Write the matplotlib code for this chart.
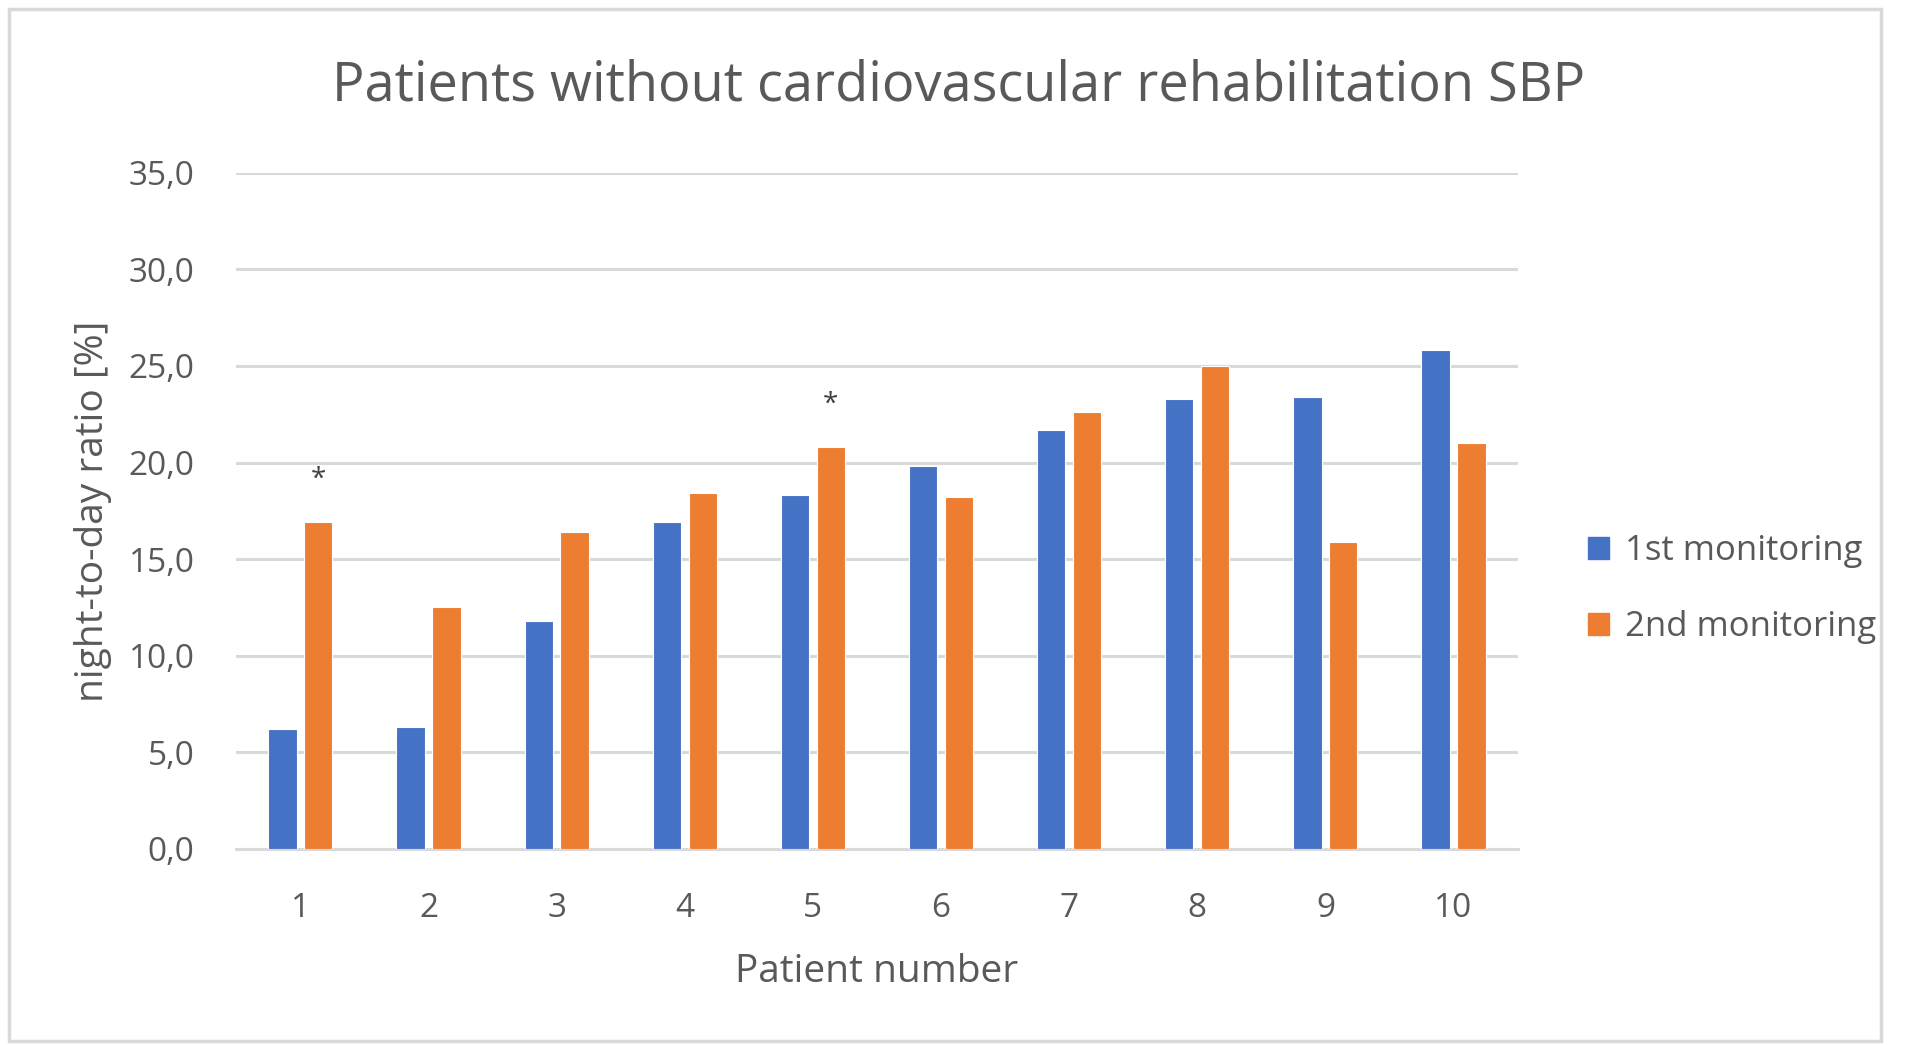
import matplotlib
matplotlib.use("Agg")
import matplotlib.pyplot as plt
from matplotlib.patches import Rectangle, Patch
import numpy as np

patients = ["1", "2", "3", "4", "5", "6", "7", "8", "9", "10"]
first_monitoring = [6.2, 6.3, 11.8, 16.9, 18.3, 19.8, 21.7, 23.3, 23.4, 25.8]
second_monitoring = [16.9, 12.5, 16.4, 18.4, 20.8, 18.2, 22.6, 25.0, 15.9, 21.0]
significant = [1, 5]  # patients marked with *
yticks = [0, 5, 10, 15, 20, 25, 30, 35]
series_names = ["1st monitoring", "2nd monitoring"]

BLUE = "#4472C4"
ORANGE = "#ED7D31"
TEXT = "#595959"
GRID = "#D9D9D9"

plt.rcParams['font.family'] = ['Open Sans', 'DejaVu Sans']

fig = plt.figure(figsize=(19.21, 10.45), dpi=100)
fig.patches.append(Rectangle((9 / 1921, 4 / 1045), 1872 / 1921, 1032 / 1045,
                             transform=fig.transFigure, fill=False,
                             edgecolor="#D9D9D9", linewidth=2.5))

ax = fig.add_axes([0.123, 0.1876, 0.667, 0.6471])
x = np.arange(len(patients))
w = 0.22
off = 0.14
ax.bar(x - off, first_monitoring, width=w, color=BLUE, edgecolor="white", linewidth=0.8, zorder=3)
ax.bar(x + off, second_monitoring, width=w, color=ORANGE, edgecolor="white", linewidth=0.8, zorder=3)

for p in significant:
    i = patients.index(str(p))
    ax.text(x[i] + off, second_monitoring[i] + 2.2, "*", ha="center", va="center",
            fontsize=20, color="#404040")

ax.set_xlim(-0.5, len(patients) - 0.5)
ax.set_ylim(0, 35)
ax.set_yticks(yticks)
ax.set_yticklabels([f"{v:.1f}".replace(".", ",") for v in yticks])
ax.set_xticks(x)
ax.set_xticklabels(patients)
ax.yaxis.grid(True, color=GRID, linewidth=2.2, zorder=0)
ax.set_axisbelow(True)
for s in ["top", "right", "left"]:
    ax.spines[s].set_visible(False)
ax.spines["bottom"].set_color(GRID)
ax.spines["bottom"].set_linewidth(2.2)
ax.tick_params(axis="both", length=0, labelsize=24, labelcolor=TEXT)
ax.tick_params(axis="x", pad=31)
ax.tick_params(axis="y", pad=30)

ax.set_xlabel("Patient number", fontsize=28, color=TEXT, labelpad=20)
ax.set_ylabel("night-to-day ratio [%]", fontsize=28, color=TEXT, labelpad=12)

fig.text(0.499, 1 - 86 / 1045, "Patients without cardiovascular rehabilitation SBP",
         ha="center", va="center", fontsize=39, color=TEXT)

handles = [Patch(facecolor=BLUE, edgecolor=BLUE), Patch(facecolor=ORANGE, edgecolor=ORANGE)]
fig.legend(handles, series_names, loc="center left",
           bbox_to_anchor=(1557 / 1921, 1 - 589 / 1045), frameon=False,
           fontsize=25, labelcolor=TEXT, handlelength=0.6, handleheight=0.6,
           handletextpad=0.45, labelspacing=1.2)

fig.savefig("out.png", dpi=100, facecolor="white")
